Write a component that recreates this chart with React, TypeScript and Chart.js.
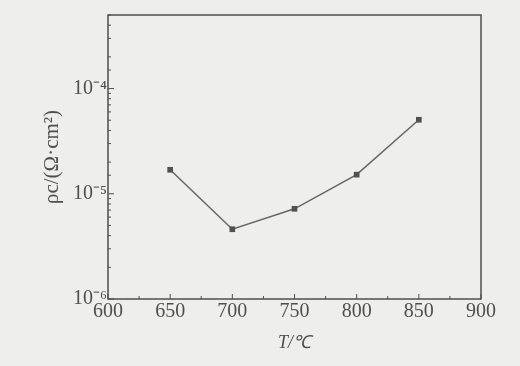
import React, { useEffect, useRef } from "react";
import { Chart, registerables } from "chart.js";

Chart.register(...registerables);

const temperatures = [650, 700, 750, 800, 850];
const resistivity = [1.69e-5, 4.6e-6, 7.2e-6, 1.52e-5, 5.05e-5];
const xTicks = [600, 650, 700, 750, 800, 850, 900];
const xMinorTicks = [625, 675, 725, 775, 825, 875];
const yDecadeLabels: Record<string, string> = {
  "-6": "10⁻⁶",
  "-5": "10⁻⁵",
  "-4": "10⁻⁴",
};
const xTitle = "T/℃";
const yTitle = "ρc/(Ω·cm²)";

const BG = "#eeeeec";
const INK = "#4f4f4f";

const framePlugin = {
  id: "frame",
  beforeDraw(chart: any) {
    const { ctx, width, height } = chart;
    ctx.save();
    ctx.fillStyle = BG;
    ctx.fillRect(0, 0, width, height);
    ctx.restore();
  },
  afterDatasetsDraw(chart: any) {
    const { ctx, chartArea } = chart;
    const { left, right, top, bottom } = chartArea;
    const xs = chart.scales.x;
    const ys = chart.scales.y;
    ctx.save();
    ctx.strokeStyle = INK;
    ctx.lineWidth = 1.5;
    ctx.strokeRect(left, top, right - left, bottom - top);
    ctx.lineWidth = 1;
    ctx.beginPath();
    xTicks.forEach((v) => {
      const px = xs.getPixelForValue(v);
      ctx.moveTo(px, bottom);
      ctx.lineTo(px, bottom - 5);
    });
    xMinorTicks.forEach((v) => {
      const px = xs.getPixelForValue(v);
      ctx.moveTo(px, bottom);
      ctx.lineTo(px, bottom - 3);
    });
    ys.ticks.forEach((t: any) => {
      const py = ys.getPixelForValue(t.value);
      const lg = Math.log10(t.value);
      const major = Math.abs(lg - Math.round(lg)) < 1e-6;
      ctx.moveTo(left, py);
      ctx.lineTo(left + (major ? 6 : 3), py);
    });
    ctx.stroke();
    ctx.restore();
  },
};

export default function App() {
  const ref = useRef<HTMLCanvasElement>(null);
  useEffect(() => {
    if (!ref.current) return;
    const chart = new Chart(ref.current, {
      type: "line",
      data: {
        datasets: [
          {
            data: temperatures.map((t, i) => ({ x: t, y: resistivity[i] })),
            borderColor: "#666666",
            borderWidth: 1.5,
            backgroundColor: "#505050",
            pointStyle: "rect",
            pointRadius: 4,
            pointBorderWidth: 0,
            pointBackgroundColor: "#505050",
            tension: 0,
          },
        ],
      },
      options: {
        animation: false,
        responsive: false,
        events: [],
        layout: { padding: { left: 36, top: 15, right: 39, bottom: 8 } },
        plugins: { legend: { display: false }, tooltip: { enabled: false } },
        scales: {
          x: {
            type: "linear",
            min: 600,
            max: 900,
            afterBuildTicks: (s: any) => {
              s.ticks = xTicks.map((v) => ({ value: v }));
            },
            afterFit: (s: any) => {
              s.height = 59;
            },
            grid: { display: false, drawTicks: false },
            border: { display: false },
            ticks: {
              color: INK,
              padding: 1,
              font: { family: "'Liberation Serif', serif", size: 20 },
            },
            title: {
              display: true,
              text: xTitle,
              color: INK,
              padding: 4,
              font: { family: "'Liberation Serif', serif", size: 18, style: "italic" },
            },
          },
          y: {
            type: "logarithmic",
            min: 1e-6,
            max: 5e-4,
            afterFit: (s: any) => {
              s.width = 72;
            },
            grid: { display: false, drawTicks: false },
            border: { display: false },
            ticks: {
              color: INK,
              padding: 1,
              autoSkip: false,
              font: { family: "'Liberation Serif', serif", size: 20 },
              callback: (v: any) => {
                const lg = Math.log10(Number(v));
                if (Math.abs(lg - Math.round(lg)) < 1e-6) {
                  return yDecadeLabels[String(Math.round(lg))] ?? "";
                }
                return "";
              },
            },
            title: {
              display: true,
              text: yTitle,
              color: INK,
              padding: 4,
              font: { family: "'Liberation Serif', serif", size: 21 },
            },
          },
        },
      },
      plugins: [framePlugin],
    } as any);
    return () => chart.destroy();
  }, []);
  return (
    <div style={{ position: "fixed", left: 0, top: 0, width: 520, height: 366, background: BG }}>
      <canvas ref={ref} width={520} height={366} style={{ display: "block" }} />
    </div>
  );
}
